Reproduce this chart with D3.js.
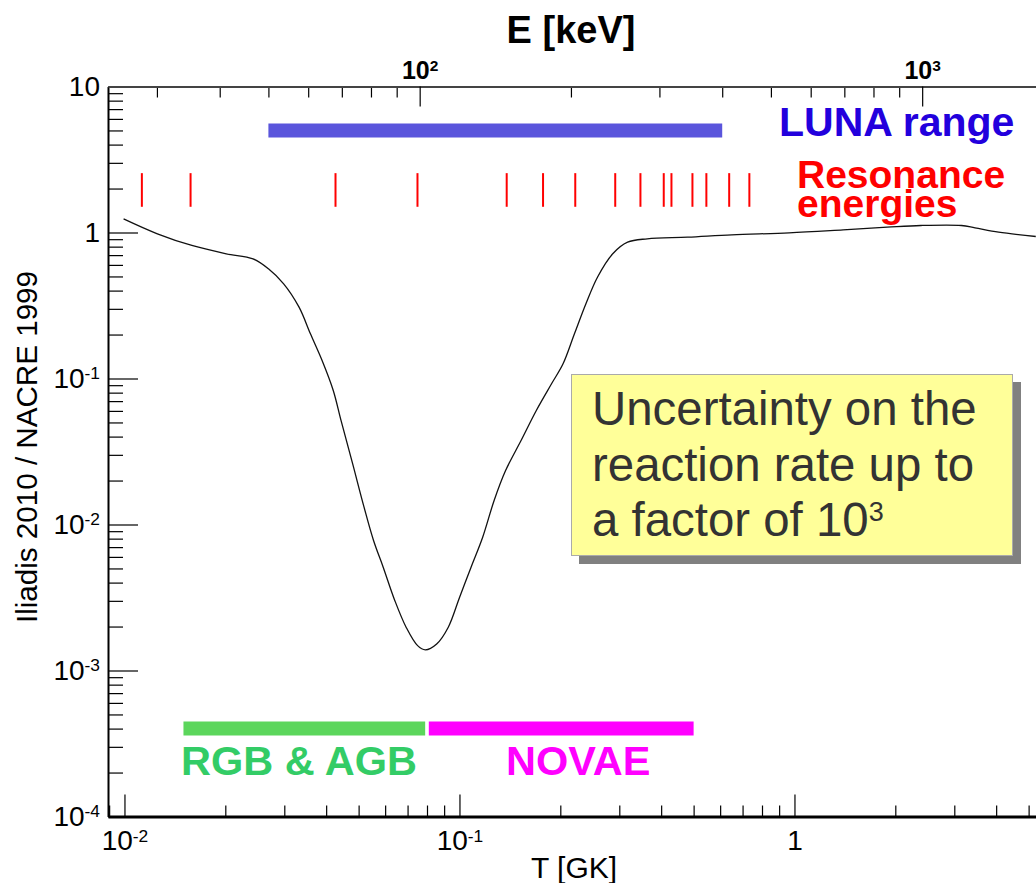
<!DOCTYPE html>
<html>
<head>
<meta charset="utf-8">
<script src="https://cdn.jsdelivr.net/npm/d3@7"></script>
<style>
  body { margin: 0; background: #fff; }
  svg { display: block; font-family: "Liberation Sans", Arial, Helvetica, sans-serif; }
</style>
</head>
<body>
<svg id="chart" width="1036" height="883"></svg>
<script>
'use strict';

// Rate ratio Iliadis 2010 / NACRE 1999 against temperature (GK)
var temperatures = [0.00994, 0.01254, 0.01589, 0.02013, 0.0242, 0.0269, 0.02987, 0.0332, 0.0359, 0.0389,
  0.0420, 0.0443, 0.0480, 0.0519, 0.0554, 0.0592, 0.0641, 0.0693, 0.0750, 0.0791,
  0.0855, 0.0926, 0.1001, 0.1083, 0.1173, 0.1269, 0.1373, 0.1527, 0.1696, 0.1883,
  0.2038, 0.2204, 0.2385, 0.2582, 0.2868, 0.3176, 0.3636, 0.480, 0.650, 0.964,
  1.397, 1.891, 2.384, 3.151, 3.458, 4.067, 5.252];
var rateRatios = [1.24, 0.98, 0.815, 0.715, 0.66, 0.564, 0.445, 0.308, 0.2024, 0.1328,
  0.0828, 0.0516, 0.0260, 0.01314, 0.00777, 0.0051, 0.00302, 0.00198, 0.00148, 0.001386,
  0.00152, 0.00198, 0.00318, 0.0051, 0.00818, 0.0146, 0.0234, 0.0376, 0.0604, 0.0920,
  0.126, 0.2024, 0.325, 0.494, 0.715, 0.858, 0.905, 0.929, 0.964, 0.995,
  1.043, 1.087, 1.117, 1.117, 1.077, 1.005, 0.939];

// Resonance energies (keV), read on the top axis
var resonanceEnergies = [28, 35, 68, 99, 149, 176, 204, 245, 275, 306, 317, 349, 372, 413, 453];

// LUNA energy range (keV)
var lunaRange = [50, 400];

// Astrophysical sites and their temperature ranges (GK)
var siteNames = ['RGB & AGB', 'NOVAE'];
var siteRanges = [[0.015, 0.079], [0.081, 0.5]];

var xMajorTicks = [0.01, 0.1, 1];
var yMajorTicks = [1e-4, 1e-3, 1e-2, 1e-1, 1, 10];
var eMajorTicks = [100, 1000];

var boxLines = ['Uncertainty on the', 'reaction rate up to', 'a factor of 10'];

// Gamow peak energy E = E_COEF * T^(2/3)
var E_COEF = 557;
function gamowEnergy(t) { return E_COEF * Math.pow(t, 2 / 3); }

var svg = d3.select('#chart');

var plotLeft = 108, plotTop = 86.5, plotBottom = 816.5;
var tMin = 0.00893, tMax = 6;
var x = d3.scaleLog().domain([tMin, tMax]).range([plotLeft, plotLeft + 335 * Math.log10(tMax / tMin)]);
var y = d3.scaleLog().domain([1e-4, 10]).range([plotBottom, plotTop]);
var e = d3.scaleLog().domain([gamowEnergy(tMin), gamowEnergy(tMax)]).range(x.range());

function powerParts(v) {
  var k = Math.round(Math.log10(v));
  if (k === 0) return ['1', ''];
  if (k === 1) return ['10', ''];
  return ['10', String(k)];
}

function writePower(text, v) {
  var parts = powerParts(v);
  text.text(null);
  text.append('tspan').text(parts[0]);
  if (parts[1]) {
    text.append('tspan').attr('dy', '-0.5em').attr('font-size', '0.62em').text(parts[1]);
  }
}

function isPower(v) {
  return Math.abs(Math.log10(v) - Math.round(Math.log10(v))) < 1e-9;
}

// ---- axes ----
function minorOf(scale) {
  return scale.ticks().filter(function(d) { return !isPower(d); });
}

// bottom (T)
svg.append('g').attr('transform', 'translate(0,' + plotBottom + ')')
  .call(d3.axisBottom(x).tickValues(minorOf(x)).tickSizeInner(-11).tickSizeOuter(0).tickFormat(''))
  .call(function(g) { g.select('.domain').remove(); });
var gx = svg.append('g').attr('transform', 'translate(0,' + plotBottom + ')')
  .call(d3.axisBottom(x).tickValues(xMajorTicks).tickSizeInner(-22).tickSizeOuter(0).tickPadding(14));
gx.selectAll('.tick text').each(function(d) { writePower(d3.select(this), d); })
  .attr('font-size', 28).attr('fill', '#000');
gx.attr('font-family', null);
gx.select('.domain').attr('stroke-width', 3);

// left (ratio)
svg.append('g').attr('transform', 'translate(' + plotLeft + ',0)')
  .call(d3.axisLeft(y).tickValues(minorOf(y)).tickSizeInner(-15).tickSizeOuter(0).tickFormat(''))
  .call(function(g) { g.select('.domain').remove(); });
var gy = svg.append('g').attr('transform', 'translate(' + plotLeft + ',0)')
  .call(d3.axisLeft(y).tickValues(yMajorTicks).tickSizeInner(-30).tickSizeOuter(0).tickPadding(8));
gy.selectAll('.tick text').each(function(d) { writePower(d3.select(this), d); })
  .attr('font-size', 28).attr('fill', '#000');
gy.attr('font-family', null);
gy.select('.domain').attr('stroke-width', 2);

// top (E)
svg.append('g').attr('transform', 'translate(0,' + plotTop + ')')
  .call(d3.axisTop(e).tickValues(minorOf(e)).tickSizeInner(-11).tickSizeOuter(0).tickFormat(''))
  .call(function(g) { g.select('.domain').remove(); });
var ge = svg.append('g').attr('transform', 'translate(0,' + plotTop + ')')
  .call(d3.axisTop(e).tickValues(eMajorTicks).tickSizeInner(-20).tickSizeOuter(0).tickPadding(8));
ge.selectAll('.tick text').each(function(d) { writePower(d3.select(this), d); })
  .attr('font-size', 25).attr('font-weight', 'bold').attr('fill', '#000');
ge.attr('font-family', null);
ge.select('.domain').attr('stroke-width', 2).attr('stroke', '#444');

svg.selectAll('.tick line').attr('stroke', '#000').attr('stroke-width', 1.2);

// axis titles
svg.append('text').attr('x', 571).attr('y', 43).attr('text-anchor', 'middle')
  .attr('font-size', 38).attr('font-weight', 'bold').text('E [keV]');
svg.append('text').attr('x', 574).attr('y', 878).attr('text-anchor', 'middle')
  .attr('font-size', 30).text('T [GK]');
svg.append('text').attr('transform', 'translate(37,447) rotate(-90)').attr('text-anchor', 'middle')
  .attr('font-size', 29.6).text('Iliadis 2010 / NACRE 1999');

// ---- ratio curve ----
var rows = temperatures.map(function(t, i) { return { t: t, r: rateRatios[i] }; });
var line = d3.line()
  .x(function(d) { return x(d.t); })
  .y(function(d) { return y(d.r); })
  .curve(d3.curveCatmullRom.alpha(0.5));
svg.append('path').datum(rows)
  .attr('d', line)
  .attr('fill', 'none')
  .attr('stroke', '#111')
  .attr('stroke-width', 1.3);

// ---- LUNA range ----
var lunaLevel = 5;
svg.append('line')
  .attr('x1', e(lunaRange[0])).attr('x2', e(lunaRange[1]))
  .attr('y1', y(lunaLevel)).attr('y2', y(lunaLevel))
  .attr('stroke', '#5a55dc').attr('stroke-width', 14);
svg.append('text').attr('x', 779).attr('y', 136)
  .attr('font-size', 41).attr('font-weight', 'bold').attr('fill', '#2200dd').text('LUNA range');

// ---- resonance energies ----
svg.selectAll('.resonance').data(resonanceEnergies).enter().append('line')
  .attr('class', 'resonance')
  .attr('x1', function(d) { return e(d); }).attr('x2', function(d) { return e(d); })
  .attr('y1', y(2.55)).attr('y2', y(1.5))
  .attr('stroke', '#ff0000').attr('stroke-width', 2);
svg.append('text').attr('x', 797).attr('y', 188)
  .attr('font-size', 39).attr('font-weight', 'bold').attr('fill', '#ff0000').text('Resonance');
svg.append('text').attr('x', 797).attr('y', 217)
  .attr('font-size', 39).attr('font-weight', 'bold').attr('fill', '#ff0000').text('energies');

// ---- astrophysical sites ----
var siteLevel = 4e-4;
var siteBarColors = ['#5cd65c', '#ff00ff'];
var siteTextColors = ['#33cc66', '#ff00ff'];
var siteTextX = [181, 506];
siteNames.forEach(function(name, i) {
  svg.append('line')
    .attr('x1', x(siteRanges[i][0])).attr('x2', x(siteRanges[i][1]))
    .attr('y1', y(siteLevel)).attr('y2', y(siteLevel))
    .attr('stroke', siteBarColors[i]).attr('stroke-width', 14);
  svg.append('text').attr('x', siteTextX[i]).attr('y', 775)
    .attr('font-size', 41.5).attr('font-weight', 'bold').attr('fill', siteTextColors[i]).text(name);
});

// ---- note box ----
svg.append('rect').attr('x', 579).attr('y', 382).attr('width', 442).attr('height', 182).attr('fill', '#808080');
svg.append('rect').attr('x', 571.5).attr('y', 374.5).attr('width', 441).attr('height', 181)
  .attr('fill', '#ffff99').attr('stroke', '#aaaaaa').attr('stroke-width', 1);
boxLines.forEach(function(txt, i) {
  var t = svg.append('text').attr('x', 592).attr('y', 425 + i * 55.5)
    .attr('font-size', 47.4).attr('fill', '#333333').text(txt);
  if (i === boxLines.length - 1) {
    t.append('tspan').attr('dy', '-0.55em').attr('font-size', 27).text('3');
  }
});
</script>
</body>
</html>
